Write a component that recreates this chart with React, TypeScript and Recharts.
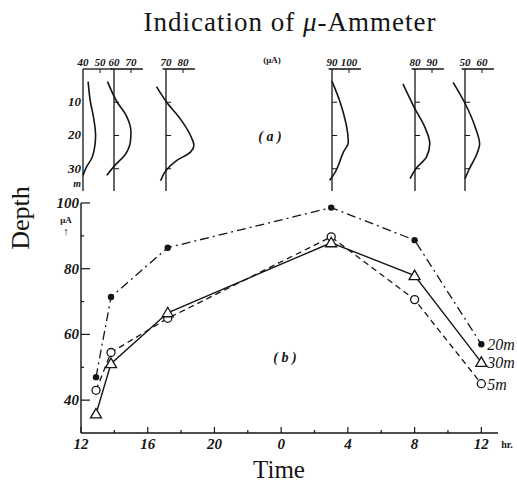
import React from 'react';
import {
  LineChart,
  Line,
  XAxis,
  YAxis,
  ReferenceLine,
  LabelList,
} from 'recharts';

// (b) readings, time in hours from noon (24 = midnight, 36 = next noon)
const TIMES = [12.9, 13.8, 17.2, 27, 32, 36];
const SERIES_20M = [47, 71.4, 86.4, 98.6, 88.7, 57];
const SERIES_30M = [35.8, 51.1, 66.6, 87.9, 77.9, 51.5];
const SERIES_5M = [43, 54.5, 64.9, 89.7, 70.6, 45];

const TIME_TICKS = [12, 14, 16, 18, 20, 22, 24, 26, 28, 30, 32, 34, 36];
const UA_TICKS = [40, 50, 60, 70, 80, 90, 100];

// (a) vertical profiles: depth (m) and indication (uA)
const P1_DEPTH = [3.8, 10, 14, 20, 23, 27, 29.5, 32];
const P1_UA = [43, 44.4, 46, 47.4, 47, 45, 42, 40];
const P2_DEPTH = [3.8, 10, 14, 19, 22, 26, 29, 32];
const P2_UA = [56.2, 61.9, 67.2, 70, 69.6, 66.2, 60.5, 55.8];
const P3_DEPTH = [5.3, 10, 15, 20, 23, 25, 27.5, 30.5, 33.6];
const P3_UA = [64.4, 70.4, 78.4, 84.4, 86.4, 84.4, 76.4, 70, 66.8];
const P4_DEPTH = [3.7, 10, 22, 25, 31, 33.5];
const P4_UA = [90, 94.8, 99.6, 96.7, 91.9, 88.6];
const P5_DEPTH = [4.5, 12, 17.5, 22.5, 26.5, 30, 33];
const P5_UA = [72.9, 80, 85.8, 88.7, 86.7, 80.5, 77.1];
const P6_DEPTH = [4, 10.3, 17.5, 22.5, 25.5, 30, 33];
const P6_UA = [43, 50, 56, 58.6, 57, 52.6, 50];

const PROFILE_BASES = [40, 60, 70, 90, 80, 50];
const DEPTH_TICKS = [10, 20, 30];

const INK = '#151515';
const TICK_FONT = '"Liberation Serif", serif';

const mainData = TIMES.map((t, i) => ({
  t,
  s20: SERIES_20M[i],
  s30: SERIES_30M[i],
  s5: SERIES_5M[i],
}));

const toRows = (depth: number[], ua: number[]) => depth.map((d, i) => ({ depth: d, ua: ua[i] }));

const profiles = [
  toRows(P1_DEPTH, P1_UA),
  toRows(P2_DEPTH, P2_UA),
  toRows(P3_DEPTH, P3_UA),
  toRows(P4_DEPTH, P4_UA),
  toRows(P5_DEPTH, P5_UA),
  toRows(P6_DEPTH, P6_UA),
];

// pixel x of each profile's base line
const PROFILE_X = [83, 114, 166, 332, 415, 465];
const PX_PER_UA = 1.7;

const DotFilled = (p: any) => <circle key={`f${p.index}`} cx={p.cx} cy={p.cy} r={3.2} fill={INK} />;
const DotOpen = (p: any) => (
  <circle key={`o${p.index}`} cx={p.cx} cy={p.cy} r={4} fill="#fff" stroke={INK} strokeWidth={1.3} />
);
const DotTri = (p: any) => (
  <path
    key={`t${p.index}`}
    d={`M${p.cx},${p.cy - 5.5} L${p.cx - 5.5},${p.cy + 4} L${p.cx + 5.5},${p.cy + 4} Z`}
    fill="#fff"
    stroke={INK}
    strokeWidth={1.3}
  />
);

const endLabel = (text: string) => (p: any) => {
  if (p.index !== TIMES.length - 1) return null;
  return (
    <text x={p.x + 6} y={p.y + 6} fontFamily={TICK_FONT} fontStyle="italic" fontSize={16} fill={INK}>
      {text}
    </text>
  );
};

const TimeTick = (p: any) => {
  const v = p.payload.value;
  const major = (v - 12) % 4 === 0;
  return (
    <g>
      <line x1={p.x} y1={p.y} x2={p.x} y2={p.y - (major ? 6 : 3)} stroke={INK} strokeWidth={1.2} />
      {major && (
        <text
          x={p.x}
          y={p.y + 16}
          textAnchor="middle"
          fontFamily={TICK_FONT}
          fontStyle="italic"
          fontWeight={600}
          fontSize={15}
          fill={INK}
        >
          {v % 24}
        </text>
      )}
    </g>
  );
};

const UaTick = (p: any) => {
  const v = p.payload.value;
  const major = v % 20 === 0;
  return (
    <g>
      <line x1={p.x} y1={p.y} x2={p.x + (major ? 9 : 3)} y2={p.y} stroke={INK} strokeWidth={1.2} />
      {major && (
        <text
          x={p.x - 2}
          y={p.y + 5}
          textAnchor="end"
          fontFamily={TICK_FONT}
          fontStyle="italic"
          fontWeight={600}
          fontSize={15}
          fill={INK}
        >
          {v}
        </text>
      )}
    </g>
  );
};

const ProfileTick = (base: number) => (p: any) => {
  const v = p.payload.value;
  return (
    <g>
      {v !== base && <line x1={p.x} y1={p.y} x2={p.x} y2={p.y + 4} stroke={INK} strokeWidth={1} />}
      <text
        x={p.x}
        y={p.y - 3}
        textAnchor="middle"
        fontFamily={TICK_FONT}
        fontStyle="italic"
        fontWeight={600}
        fontSize={11}
        fill={INK}
      >
        {v}
      </text>
    </g>
  );
};

const DepthTick = (p: any) => {
  const v = p.payload.value;
  const unit = v > 30;
  return (
    <text
      x={p.x - 2}
      y={p.y + (unit ? 5 : 4)}
      textAnchor="end"
      fontFamily={TICK_FONT}
      fontStyle="italic"
      fontWeight={600}
      fontSize={unit ? 10 : 13}
      fill={INK}
    >
      {unit ? 'm' : v}
    </text>
  );
};

const Profile: React.FC<{ idx: number }> = ({ idx }) => {
  const base = PROFILE_BASES[idx];
  const first = idx === 0;
  const domain: [number, number] = first ? [base, base + 30] : [base - 10, base + 20];
  const axisW = first ? 20 : 0;
  const width = axisW + 30 * PX_PER_UA;
  const left = PROFILE_X[idx] - axisW - (base - domain[0]) * PX_PER_UA;
  const lineStart = first ? base : base - 2;
  return (
    <div style={{ position: 'absolute', left, top: 55 }}>
      <LineChart
        width={width}
        height={136}
        data={profiles[idx]}
        layout="vertical"
        margin={{ top: 0, right: 0, bottom: 0, left: 0 }}
      >
        <XAxis
          type="number"
          orientation="top"
          domain={domain}
          ticks={[base, base + 10]}
          height={14}
          axisLine={false}
          tickLine={false}
          tickSize={0}
          tickMargin={0}
          tick={ProfileTick(base)}
          interval={0}
        />
        <YAxis
          type="number"
          dataKey="depth"
          domain={[0, 36.7]}
          hide={!first}
          width={axisW}
          ticks={[10, 20, 30, 34]}
          interval={0}
          axisLine={false}
          tickLine={false}
          tickSize={0}
          tickMargin={0}
          tick={DepthTick}
        />
        <ReferenceLine
          segment={[
            { x: lineStart, y: 0 },
            { x: base + 17, y: 0 },
          ]}
          stroke={INK}
          strokeWidth={1.3}
        />
        <ReferenceLine x={base} stroke={INK} strokeWidth={1.3} />
        {DEPTH_TICKS.map((d) => (
          <ReferenceLine
            key={d}
            segment={[
              { x: base - (first ? 1.5 : 0), y: d },
              { x: base + 3, y: d },
            ]}
            stroke={INK}
            strokeWidth={1}
          />
        ))}
        <Line
          dataKey="ua"
          type="monotone"
          stroke={INK}
          strokeWidth={1.6}
          dot={false}
          isAnimationActive={false}
        />
      </LineChart>
    </div>
  );
};

export default function App() {
  return (
    <div style={{ position: 'absolute', left: 0, top: 0, width: 517, height: 483, background: '#fff' }}>
      {PROFILE_BASES.map((_, i) => (
        <Profile key={i} idx={i} />
      ))}

      <div style={{ position: 'absolute', left: 0, top: 190 }}>
        <LineChart width={517} height={270} data={mainData} margin={{ top: 13, right: 19, bottom: 0, left: 41 }}>
          <XAxis
            dataKey="t"
            type="number"
            domain={[12, 37]}
            ticks={TIME_TICKS}
            interval={0}
            height={27}
            stroke={INK}
            axisLine={{ stroke: INK, strokeWidth: 1.4 }}
            tickLine={false}
            tickSize={0}
            tickMargin={0}
            tick={TimeTick}
          />
          <YAxis
            type="number"
            domain={[30, 100]}
            ticks={UA_TICKS}
            interval={0}
            width={40}
            axisLine={{ stroke: INK, strokeWidth: 1.4 }}
            tickLine={false}
            tickSize={0}
            tickMargin={0}
            tick={UaTick}
          />
          <Line
            dataKey="s20"
            type="linear"
            stroke={INK}
            strokeWidth={1.3}
            strokeDasharray="9 4 2 4"
            dot={DotFilled}
            isAnimationActive={false}
          >
            <LabelList dataKey="s20" content={endLabel('20m')} />
          </Line>
          <Line
            dataKey="s5"
            type="linear"
            stroke={INK}
            strokeWidth={1.3}
            strokeDasharray="6 4"
            dot={DotOpen}
            isAnimationActive={false}
          >
            <LabelList dataKey="s5" content={endLabel('5m')} />
          </Line>
          <Line
            dataKey="s30"
            type="linear"
            stroke={INK}
            strokeWidth={1.4}
            dot={DotTri}
            isAnimationActive={false}
          >
            <LabelList dataKey="s30" content={endLabel('30m')} />
          </Line>
        </LineChart>
      </div>

      <svg
        width={517}
        height={483}
        style={{ position: 'absolute', left: 0, top: 0, pointerEvents: 'none' }}
        fontFamily='"Liberation Serif", serif'
        fill={INK}
      >
        <text x={290} y={31} textAnchor="middle" fontSize={27} letterSpacing={1}>
          Indication of <tspan fontStyle="italic">μ</tspan>-Ammeter
        </text>
        <text x={272} y={63} textAnchor="middle" fontSize={9} fontWeight={600}>
          (μA)
        </text>
        <text x={270} y={141} textAnchor="middle" fontSize={14} fontStyle="italic" fontWeight={600}>
          ( a )
        </text>
        <text x={285} y={362} textAnchor="middle" fontSize={14} fontStyle="italic" fontWeight={600}>
          ( b )
        </text>
        <text x={66} y={223} textAnchor="middle" fontSize={9} fontWeight={600}>
          μA
        </text>
        <text x={66} y={235} textAnchor="middle" fontSize={11} fontWeight={600}>
          ↑
        </text>
        <text x={507} y={448} textAnchor="middle" fontSize={10} fontWeight={600}>
          hr.
        </text>
        <text x={20} y={218} textAnchor="middle" fontSize={26} transform="rotate(-90 20 218)" dominantBaseline="central">
          Depth
        </text>
        <text x={279} y={478} textAnchor="middle" fontSize={25}>
          Time
        </text>
      </svg>
    </div>
  );
}
